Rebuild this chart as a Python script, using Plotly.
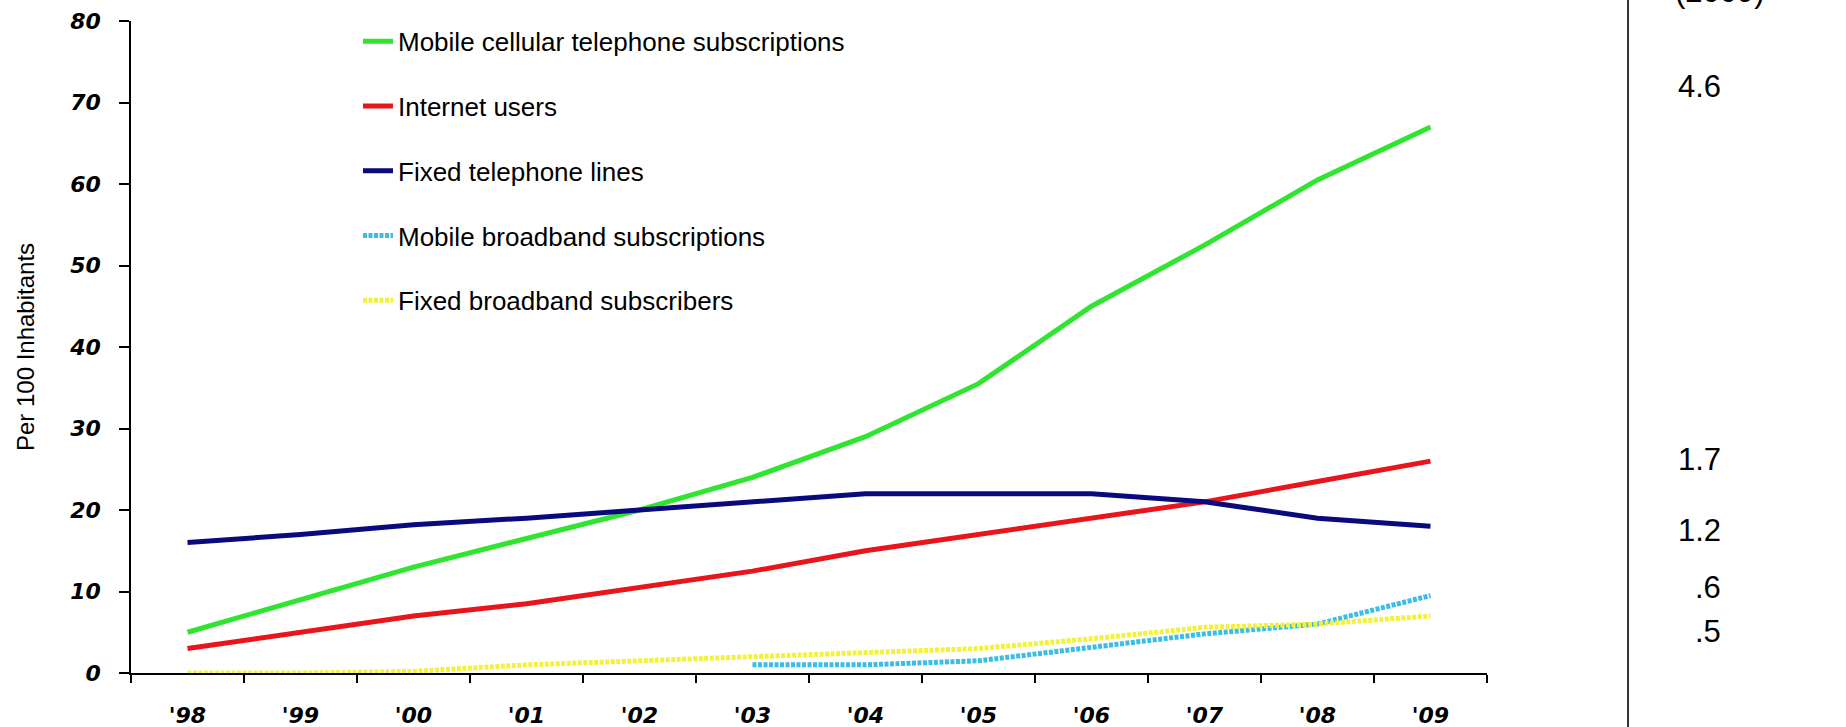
import plotly.graph_objects as go

years = ["'98", "'99", "'00", "'01", "'02", "'03", "'04", "'05", "'06", "'07", "'08", "'09"]

mobile_cellular = [5, 9, 13, 16.5, 20, 24, 29, 35.5, 45, 52.5, 60.5, 67]
internet_users = [3, 5, 7, 8.5, 10.5, 12.5, 15, 17, 19, 21, 23.5, 26]
fixed_telephone = [16, 17, 18.2, 19, 20, 21, 22, 22, 22, 21, 19, 18]
mobile_broadband = [None, None, None, None, None, 1, 1, 1.5, 3.2, 4.8, 6, 9.5]
fixed_broadband = [0, 0, 0.2, 1, 1.5, 2, 2.5, 3, 4.2, 5.6, 6, 7]

series_names = [
    "Mobile cellular telephone subscriptions",
    "Internet users",
    "Fixed telephone lines",
    "Mobile broadband subscriptions",
    "Fixed broadband subscribers",
]

right_header = "(2009)"
right_values = ["4.6", "1.7", "1.2", ".6", ".5"]

# layout positions (paper coords) for the right-hand column
right_value_y = [0.9003, 0.3267, 0.2193, 0.1304, 0.0629]

series = [mobile_cellular, internet_users, fixed_telephone, mobile_broadband, fixed_broadband]
colors = ["#2fe52f", "#e8161c", "#0a0a7e", "#3cbde6", "#f2f23c"]
dashes = ["solid", "solid", "solid", "4px,1.5px", "4px,1.5px"]
widths = [5, 5, 5, 5, 5]

fig = go.Figure()
for i, (name, vals) in enumerate(zip(series_names, series)):
    fig.add_trace(go.Scatter(
        x=years, y=vals, name=name, mode="lines",
        line=dict(color=colors[i], width=widths[i], dash=dashes[i]),
        legendgroup=f"g{i}",
        connectgaps=False,
    ))

tick_font = dict(family="DejaVu Sans", size=22, color="black", weight="bold", style="italic")

fig.update_layout(
    width=1846, height=727,
    margin=dict(l=131, r=359, t=21, b=54, autoexpand=False),
    paper_bgcolor="white", plot_bgcolor="white",
    showlegend=True,
    legend=dict(
        x=0.1674, y=1.005, xanchor="left", yanchor="top",
        font=dict(family="Liberation Sans", size=26, color="black"),
        tracegroupgap=28, bgcolor="rgba(0,0,0,0)", borderwidth=0,
    ),
    xaxis=dict(
        type="category", range=[-0.5, 11.5], tickson="boundaries",
        ticks="outside", ticklen=8, tickwidth=1.5, tickcolor="black",
        showline=True, linecolor="black", linewidth=1.5,
        showgrid=False, zeroline=False, automargin=False,
        tickfont=tick_font, ticklabelstandoff=22,
    ),
    yaxis=dict(
        range=[0, 80], dtick=10, tick0=0,
        ticks="outside", ticklen=10, tickwidth=1.5, tickcolor="black",
        showline=True, linecolor="black", linewidth=1.5,
        showgrid=False, zeroline=False, automargin=False,
        tickfont=tick_font, ticklabelstandoff=14,
        title=dict(text="Per 100 Inhabitants",
                   font=dict(family="Liberation Sans", size=24, color="black"),
                   standoff=28),
    ),
)

fig.add_shape(type="line", xref="paper", yref="paper",
              x0=1.104, x1=1.104, y0=-0.09, y1=1.04,
              line=dict(color="#333333", width=2))

num_font = dict(family="Liberation Sans", size=31, color="black")
fig.add_annotation(text=right_header, xref="paper", yref="paper", x=1.1718, y=1.0153,
                   xanchor="center", yanchor="bottom", showarrow=False, font=num_font)
for txt, yy in zip(right_values, right_value_y):
    fig.add_annotation(text=txt, xref="paper", yref="paper", x=1.1741, y=yy,
                       xanchor="right", yanchor="middle", showarrow=False, font=num_font)

fig.write_html(
    "out.html",
    config={"displayModeBar": False},
    post_script="document.body.style.margin='0';document.body.style.padding='0';",
)
